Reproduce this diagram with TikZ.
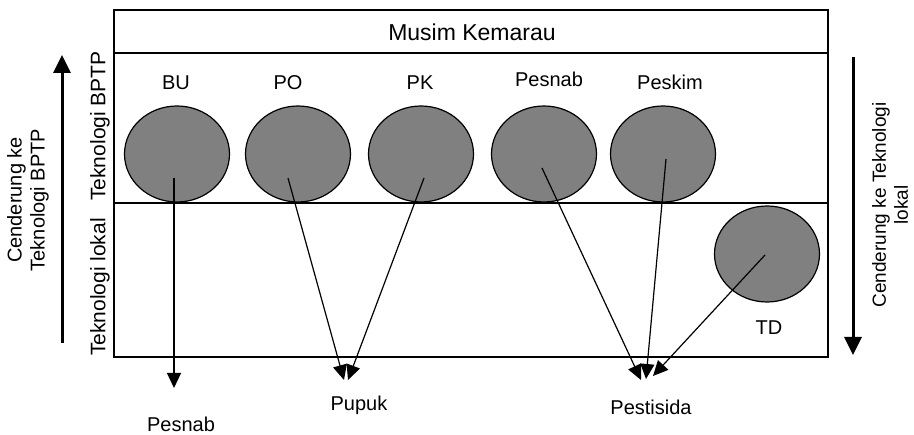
\documentclass[tikz,border=0pt]{standalone}
\usepackage{fontspec}
\setmainfont{Liberation Sans}
\usetikzlibrary{shapes.geometric,arrows.meta}
\begin{document}
\begin{tikzpicture}[x=1pt,y=-1pt,
  frame/.style={line width=1.6pt},
  blob/.style={ellipse,draw=black,line width=1.2pt,fill={rgb,255:red,128;green,128;blue,128},minimum width=105pt,minimum height=96pt,inner sep=0pt},
  lbl/.style={font=\fontsize{20}{23}\selectfont,inner sep=0pt},
  link/.style={line width=1.2pt,-{Triangle[length=15pt,width=14pt]}},
  trend/.style={line width=3pt,-{Triangle[length=18pt,width=17pt]}}]
\useasboundingbox (0,0) rectangle (914,435);
% frame
\draw[frame] (114,10) rectangle (828,357);
\draw[frame] (114,53) -- (828,53);
\draw[frame] (114,203) -- (828,203);
\node[lbl,font=\fontsize{23}{27}\selectfont] (title) at (472,32) {Musim Kemarau};
% side labels
\node[lbl,rotate=90,font=\fontsize{21}{24}\selectfont] (tbptp) at (100,126) {Teknologi BPTP};
\node[lbl,rotate=90,font=\fontsize{21}{24}\selectfont] (tlokal) at (100,287) {Teknologi lokal};
% blobs
\node[blob] (bu) at (177,154) {};
\node[blob] (po) at (298,154) {};
\node[blob] (pk) at (421,154) {};
\node[blob] (pesnab) at (544,154) {};
\node[blob] (peskim) at (663,154) {};
\node[blob] (td) at (767,254) {};
\node[lbl] (lbu) at (176,83) {BU};
\node[lbl] (lpo) at (288,83) {PO};
\node[lbl] (lpk) at (420,83) {PK};
\node[lbl] (lpesnab) at (549,79) {Pesnab};
\node[lbl] (lpeskim) at (670,82) {Peskim};
\node[lbl] (ltd) at (769,328) {TD};
% targets
\node[lbl] (tpesnab) at (181,424) {Pesnab};
\node[lbl] (tpupuk) at (359,405) {Pupuk};
\node[lbl] (tpest) at (651,407) {Pestisida};
% start points
\coordinate (sbu) at (174,178);
\coordinate (spo) at (288,178);
\coordinate (spk) at (424,178);
\coordinate (spesnab) at (542,168);
\coordinate (speskim) at (666,159);
\coordinate (std) at (765,255);
% end points
\coordinate (ebu) at (174,388);
\coordinate (epo) at (344,380);
\coordinate (epk) at (348,380);
\coordinate (epesnab) at (641,380);
\coordinate (epeskim) at (646,379);
\coordinate (etd) at (653,376);
\draw[link] (sbu) -- (ebu);
\draw[link] (spo) -- (epo);
\draw[link] (spk) -- (epk);
\draw[link] (spesnab) -- (epesnab);
\draw[link] (speskim) -- (epeskim);
\draw[link] (std) -- (etd);
% trend arrows
\coordinate (lb) at (62,343);
\coordinate (lt) at (62,55);
\draw[trend] (lb) -- (lt);
\node[lbl,rotate=90,align=center] (lcap) at (28,200) {Cenderung ke\\Teknologi BPTP};
\coordinate (rt) at (853,57);
\coordinate (rb) at (853,355);
\draw[trend] (rt) -- (rb);
\node[lbl,rotate=90,align=center,font=\fontsize{19}{22}\selectfont] (rcap) at (890,205) {Cenderung ke Teknologi\\lokal};
\end{tikzpicture}
\end{document}
